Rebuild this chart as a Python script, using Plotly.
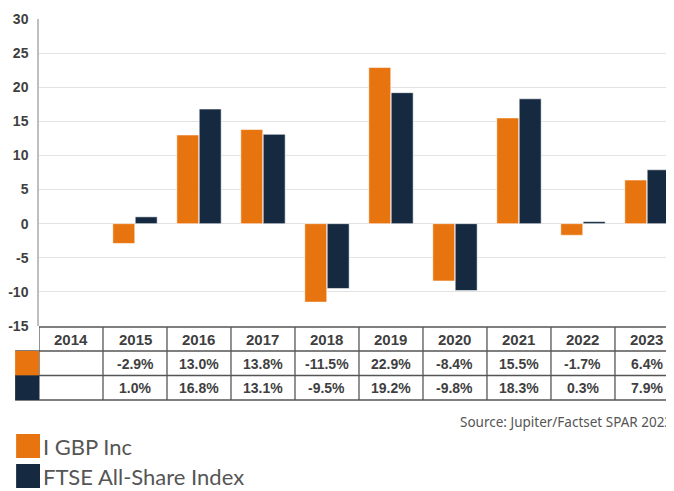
import plotly.graph_objects as go

years = ["2014", "2015", "2016", "2017", "2018", "2019", "2020", "2021", "2022", "2023"]
fund_name = "I GBP Inc"
index_name = "FTSE All-Share Index"
fund_values = [None, -2.9, 13.0, 13.8, -11.5, 22.9, -8.4, 15.5, -1.7, 6.4]
index_values = [None, 1.0, 16.8, 13.1, -9.5, 19.2, -9.8, 18.3, 0.3, 7.9]
y_ticks = [-15, -10, -5, 0, 5, 10, 15, 20, 25, 30]
y_tick_labels = [str(v) for v in y_ticks]
source_text = "Source: Jupiter/Factset SPAR 2023"

ORANGE = "#E8740F"
NAVY = "#152A40"
OFF = 8  # page body margin
W, H = 674 - OFF, 491 - OFF
ML = 36 - OFF
MT = 19 - OFF
PLOT_BOTTOM = 326 - OFF
MB = H - PLOT_BOTTOM
PW = W - ML
PH = H - MT - MB
CAT_W = 64.3

def px_x(p):
    return (p - OFF - ML) / PW

def px_y(p):
    return (H - MB - (p - OFF)) / PH

fig = go.Figure()
fig.add_trace(go.Bar(x=list(range(len(years))), y=fund_values, name=fund_name,
                     marker=dict(color=ORANGE, line=dict(color="rgba(255,255,255,0.55)", width=1))))
fig.add_trace(go.Bar(x=list(range(len(years))), y=index_values, name=index_name,
                     marker=dict(color=NAVY, line=dict(color="rgba(255,255,255,0.55)", width=1))))

shapes = []
annotations = []
line_col = "#555555"
row_lines = [327, 351, 375.5, 400]
n = len(years)
for i, yy in enumerate(row_lines):
    shapes.append(dict(type="line", xref="paper", yref="paper",
                       x0=px_x(36 if i == 0 else 12), x1=1.02, y0=px_y(yy), y1=px_y(yy),
                       line=dict(color=line_col, width=1.3)))
for k in range(n + 1):
    shapes.append(dict(type="line", xref="x", yref="paper",
                       x0=k - 0.5, x1=k - 0.5, y0=px_y(row_lines[0]), y1=px_y(row_lines[-1]),
                       line=dict(color=line_col, width=1.3)))
for (yy0, yy1, col) in [(351, 375.5, ORANGE), (375.5, 400, NAVY)]:
    shapes.append(dict(type="rect", xref="paper", yref="paper",
                       x0=px_x(12), x1=px_x(36), y0=px_y(yy1), y1=px_y(yy0),
                       fillcolor=col, line=dict(width=0)))

def fmt(v):
    return "" if v is None else f"{v:.1f}%"

tfont = dict(family="Liberation Sans, Arial, sans-serif", size=14, color="#3f3f3f")
for i, yr in enumerate(years):
    annotations.append(dict(x=i, y=px_y(339.5), xref="x", yref="paper", text=f"<b>{yr}</b>",
                            showarrow=False, yanchor="middle", font=dict(tfont, size=15)))
    annotations.append(dict(x=i, y=px_y(363.5), xref="x", yref="paper", text=f"<b>{fmt(fund_values[i])}</b>",
                            showarrow=False, yanchor="middle", font=tfont))
    annotations.append(dict(x=i, y=px_y(388), xref="x", yref="paper", text=f"<b>{fmt(index_values[i])}</b>",
                            showarrow=False, yanchor="middle", font=tfont))

annotations.append(dict(x=px_x(457), y=px_y(422), xref="paper", yref="paper", text=source_text,
                        showarrow=False, xanchor="left", yanchor="middle",
                        font=dict(family="Noto Sans, sans-serif", size=13.5, color="#555555")))

for (yy0, name, col) in [(434, fund_name, ORANGE), (464, index_name, NAVY)]:
    shapes.append(dict(type="rect", xref="paper", yref="paper",
                       x0=px_x(13), x1=px_x(37), y0=px_y(yy0 + 24), y1=px_y(yy0),
                       fillcolor=col, line=dict(width=0)))
    annotations.append(dict(x=px_x(38), y=px_y(yy0 + 12), xref="paper", yref="paper", text=name,
                            showarrow=False, xanchor="left", yanchor="middle",
                            font=dict(family="Lato, sans-serif", size=22, color="#555555")))

fig.update_layout(
    width=W, height=H,
    margin=dict(l=ML, r=0, t=MT, b=MB),
    plot_bgcolor="white", paper_bgcolor="white",
    barmode="group", bargap=0.3, bargroupgap=0.02,
    showlegend=False,
    shapes=shapes, annotations=annotations,
    xaxis=dict(range=[-0.5, -0.5 + PW / CAT_W], showticklabels=False, showgrid=False,
               zeroline=False, showline=False, ticks=""),
    yaxis=dict(range=[-15, 30], tickvals=y_ticks, ticktext=y_tick_labels,
               showgrid=True, gridcolor="#E3E3E3",
               zeroline=True, zerolinecolor="#E3E3E3", zerolinewidth=1,
               showline=True, linecolor="#BFBFBF", linewidth=1.5, ticks="",
               ticklabelstandoff=6,
               tickfont=dict(family="Liberation Sans, Arial, sans-serif", size=14, color="#3f3f3f",
                             weight="bold")),
)

fig.write_html("out.html")
